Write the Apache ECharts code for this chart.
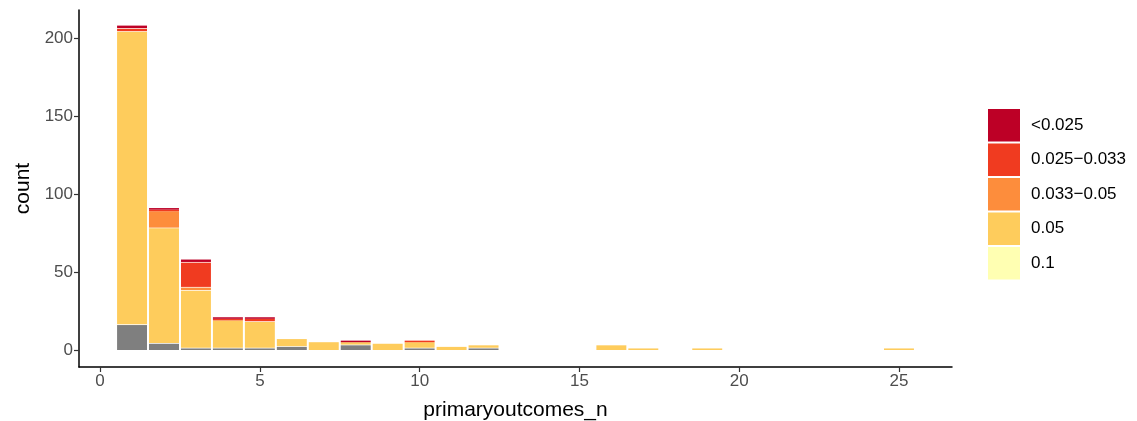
<!DOCTYPE html>
<html>
<head>
<meta charset="utf-8">
<script src="https://cdn.jsdelivr.net/npm/echarts@6/dist/echarts.min.js"></script>
<style>
html,body{margin:0;padding:0;background:#fff;}
#chart{width:1137px;height:421px;}
</style>
</head>
<body>
<div id="chart"></div>
<script>
// x positions (primaryoutcomes_n bins)
const xPositions = [1,2,3,4,5,6,7,8,9,10,11,12,16,17,19,25];
// counts per significance category (stacked bottom to top)
const naCounts      = [16, 4, 1, 1, 1, 2, 0, 3, 0, 1, 0, 1, 0, 0, 0, 0];
const p01Counts     = [0, 0, 0, 0, 0, 0, 0, 0, 0, 0, 0, 0, 0, 0, 0, 0];
const p005Counts    = [188, 74, 37, 18, 17, 5, 5, 2, 4, 4, 2, 2, 3, 1, 1, 1];
const p0033Counts   = [0, 11, 2, 0, 0, 0, 0, 0, 0, 0, 0, 0, 0, 0, 0, 0];
const p0025Counts   = [2, 1, 16, 1, 2, 0, 0, 0, 0, 1, 0, 0, 0, 0, 0, 0];
const pLowCounts    = [2, 1, 2, 1, 1, 0, 0, 1, 0, 0, 0, 0, 0, 0, 0, 0];
const categoryNames = ['NA', '0.1', '0.05', '0.033\u22120.05', '0.025\u22120.033', '<0.025'];
const legendOrder   = ['<0.025', '0.025\u22120.033', '0.033\u22120.05', '0.05', '0.1'];
const xTicks = [0, 5, 10, 15, 20, 25];
const yTicks = [0, 50, 100, 150, 200];

const colors = ['#7F7F7F', '#FFFFB2', '#FECC5C', '#FD8D3C', '#F03B20', '#BD0026'];
const seriesValues = [naCounts, p01Counts, p005Counts, p0033Counts, p0025Counts, pLowCounts];

// build stacked [x, base, top] triples
const cumulative = xPositions.map(() => 0);
const series = categoryNames.map((name, i) => {
  const data = xPositions.map((x, j) => {
    const base = cumulative[j];
    cumulative[j] += seriesValues[i][j];
    return [x, base, cumulative[j]];
  });
  return {
    name: name,
    type: 'custom',
    silent: true,
    itemStyle: {color: colors[i]},
    encode: {x: 0, y: [1, 2]},
    data: data,
    renderItem: function (params, api) {
      const x = api.value(0), y0 = api.value(1), y1 = api.value(2);
      if (y1 - y0 <= 0) return null;
      const p0 = api.coord([x - 0.5, y1]);
      const p1 = api.coord([x + 0.5, y0]);
      const h = p1[1] - p0[1];
      return {
        type: 'rect',
        shape: {x: p0[0] + 1, y: p0[1], width: p1[0] - p0[0] - 2, height: h - (y0 > 0 && h > 2 ? 0.7 : 0)},
        style: {fill: colors[i]}
      };
    }
  };
});

const font = 'Liberation Sans, Arial, sans-serif';
const chart = echarts.init(document.getElementById('chart'), null, {renderer: 'canvas'});
chart.setOption({
  animation: false,
  backgroundColor: '#ffffff',
  grid: {left: 79, right: 185, top: 10, bottom: 54, outerBoundsMode: 'none', containLabel: false},
  xAxis: {
    type: 'value',
    min: -0.66, max: 26.66,
    name: 'primaryoutcomes_n',
    nameLocation: 'middle',
    nameGap: 33,
    nameTextStyle: {fontSize: 21, color: '#000', fontFamily: font},
    splitLine: {show: false},
    axisLine: {show: true, onZero: false, lineStyle: {color: '#000', width: 1.5}},
    axisTick: {show: true, customValues: xTicks, length: 5, lineStyle: {color: '#333', width: 1.2}},
    axisLabel: {customValues: xTicks, fontSize: 17, color: '#4D4D4D', margin: 6, fontFamily: font}
  },
  yAxis: {
    type: 'value',
    min: -10.9, max: 218,
    name: 'count',
    nameLocation: 'middle',
    nameGap: 35,
    nameRotate: 90,
    nameTextStyle: {fontSize: 21, color: '#000', fontFamily: font},
    splitLine: {show: false},
    axisLine: {show: true, onZero: false, lineStyle: {color: '#000', width: 1.5}},
    axisTick: {show: true, customValues: yTicks, length: 5, lineStyle: {color: '#333', width: 1.2}},
    axisLabel: {customValues: yTicks, fontSize: 17, color: '#4D4D4D', margin: 6, fontFamily: font}
  },
  legend: {
    orient: 'vertical',
    left: 988, top: 109,
    padding: 0,
    itemWidth: 32, itemHeight: 32.5, itemGap: 2,
    icon: 'rect',
    data: legendOrder,
    selectedMode: false,
    textStyle: {fontSize: 17, color: '#000', fontFamily: font, padding: [0, 0, 0, 6]}
  },
  series: series
});
</script>
</body>
</html>
